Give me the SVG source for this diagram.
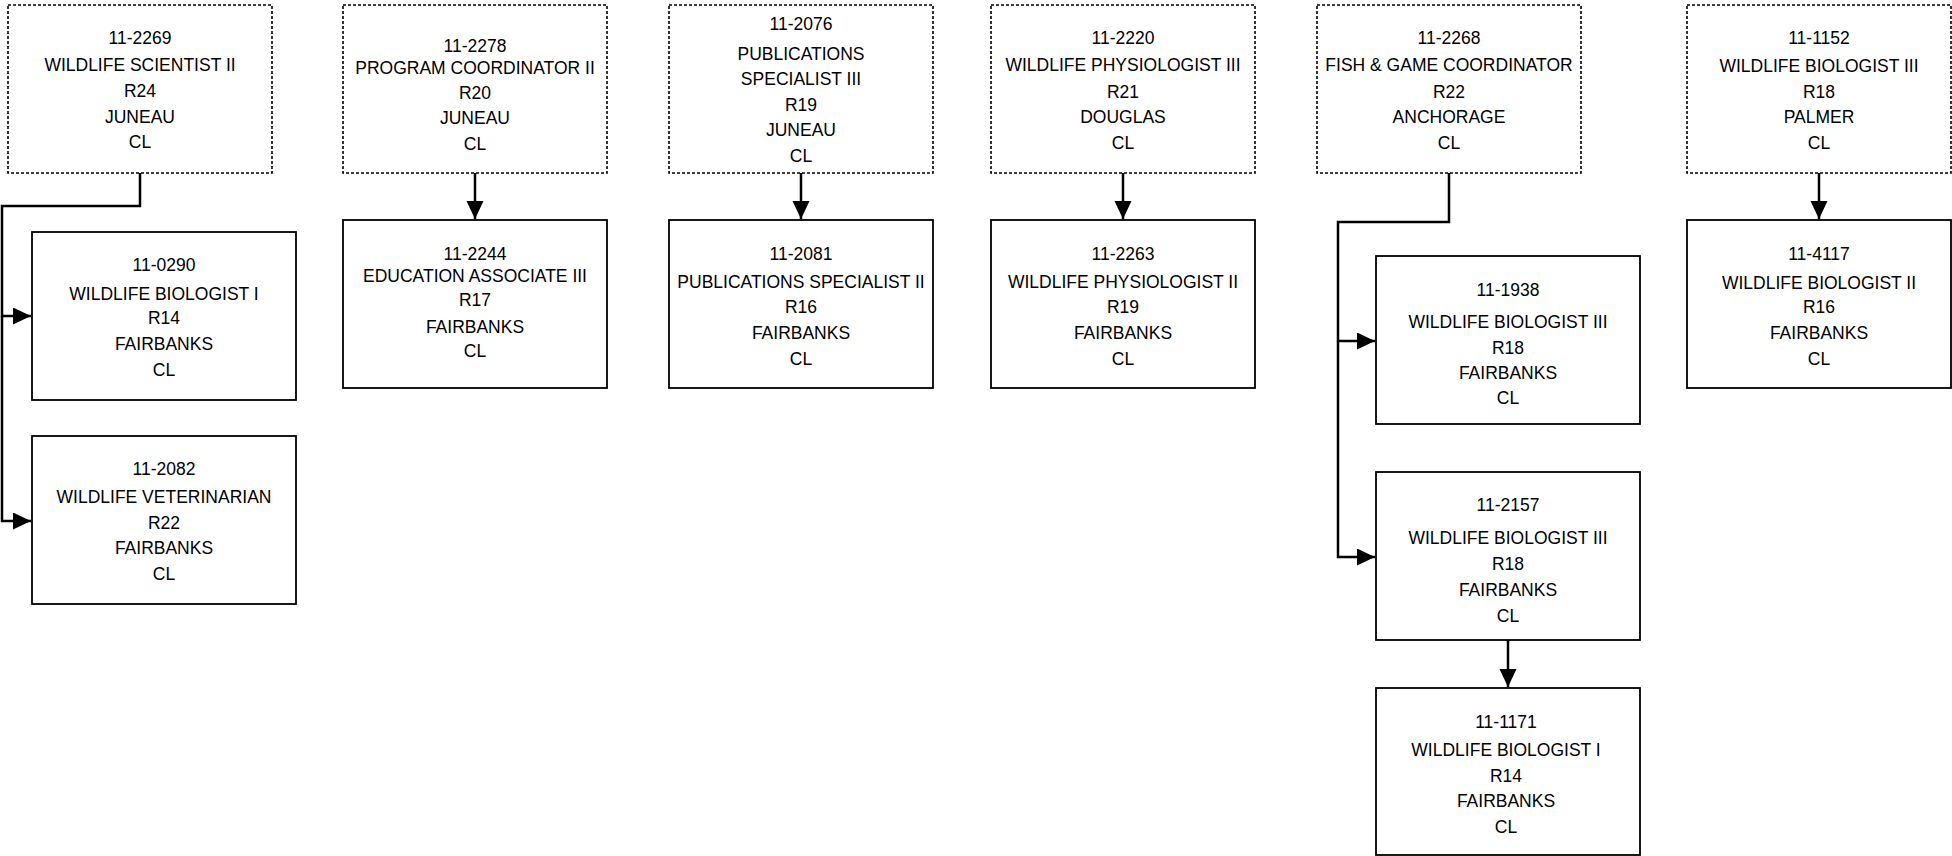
<svg xmlns="http://www.w3.org/2000/svg" width="1952" height="856" viewBox="0 0 1952 856">
<style>
.box{fill:#fff;stroke:#000;stroke-width:1.8}
.dot{fill:#fff;stroke:#000;stroke-width:1.6;stroke-dasharray:3 2}
text{font-family:"Liberation Sans",Arial,sans-serif;font-size:17.5px;fill:#000;text-anchor:middle}
.con{fill:none;stroke:#000;stroke-width:2.5}
</style>
<defs>
<marker id="ah" markerUnits="userSpaceOnUse" markerWidth="18" markerHeight="18" refX="18" refY="8.5" orient="auto">
<path d="M0,0 L18,8.5 L0,17 z" fill="#000"/>
</marker>
</defs>
<rect width="1952" height="856" fill="#fff"/>
<g id="connectors">
<path class="con" d="M140,173 V206 H2 V316 H31" marker-end="url(#ah)"/>
<path class="con" d="M2,316 V521 H31" marker-end="url(#ah)"/>
<path class="con" d="M475,173 V219" marker-end="url(#ah)"/>
<path class="con" d="M801,173 V219" marker-end="url(#ah)"/>
<path class="con" d="M1123,173 V219" marker-end="url(#ah)"/>
<path class="con" d="M1449,173 V222 H1338 V341 H1375" marker-end="url(#ah)"/>
<path class="con" d="M1338,341 V557 H1375" marker-end="url(#ah)"/>
<path class="con" d="M1508,640 V687" marker-end="url(#ah)"/>
<path class="con" d="M1819,173 V219" marker-end="url(#ah)"/>
</g>
<g id="n2269">
<rect class="dot" x="8" y="5" width="264" height="168"/>
<text x="140" y="44">11-2269</text><text x="140" y="71">WILDLIFE SCIENTIST II</text><text x="140" y="97">R24</text><text x="140" y="123">JUNEAU</text><text x="140" y="148">CL</text>
</g>
<g id="n0290">
<rect class="box" x="32" y="232" width="264" height="168"/>
<text x="164" y="271">11-0290</text><text x="164" y="300">WILDLIFE BIOLOGIST I</text><text x="164" y="324">R14</text><text x="164" y="350">FAIRBANKS</text><text x="164" y="376">CL</text>
</g>
<g id="n2082">
<rect class="box" x="32" y="436" width="264" height="168"/>
<text x="164" y="475">11-2082</text><text x="164" y="503">WILDLIFE VETERINARIAN</text><text x="164" y="529">R22</text><text x="164" y="554">FAIRBANKS</text><text x="164" y="580">CL</text>
</g>
<g id="n2278">
<rect class="dot" x="343" y="5" width="264" height="168"/>
<text x="475" y="52">11-2278</text><text x="475" y="74">PROGRAM COORDINATOR II</text><text x="475" y="99">R20</text><text x="475" y="124">JUNEAU</text><text x="475" y="150">CL</text>
</g>
<g id="n2244">
<rect class="box" x="343" y="220" width="264" height="168"/>
<text x="475" y="260">11-2244</text><text x="475" y="282">EDUCATION ASSOCIATE III</text><text x="475" y="306">R17</text><text x="475" y="333">FAIRBANKS</text><text x="475" y="357">CL</text>
</g>
<g id="n2076">
<rect class="dot" x="669" y="5" width="264" height="168"/>
<text x="801" y="30">11-2076</text><text x="801" y="60">PUBLICATIONS</text><text x="801" y="85">SPECIALIST III</text><text x="801" y="111">R19</text><text x="801" y="136">JUNEAU</text><text x="801" y="162">CL</text>
</g>
<g id="n2081">
<rect class="box" x="669" y="220" width="264" height="168"/>
<text x="801" y="260">11-2081</text><text x="801" y="288">PUBLICATIONS SPECIALIST II</text><text x="801" y="313">R16</text><text x="801" y="339">FAIRBANKS</text><text x="801" y="365">CL</text>
</g>
<g id="n2220">
<rect class="dot" x="991" y="5" width="264" height="168"/>
<text x="1123" y="44">11-2220</text><text x="1123" y="71">WILDLIFE PHYSIOLOGIST III</text><text x="1123" y="98">R21</text><text x="1123" y="123">DOUGLAS</text><text x="1123" y="149">CL</text>
</g>
<g id="n2263">
<rect class="box" x="991" y="220" width="264" height="168"/>
<text x="1123" y="260">11-2263</text><text x="1123" y="288">WILDLIFE PHYSIOLOGIST II</text><text x="1123" y="313">R19</text><text x="1123" y="339">FAIRBANKS</text><text x="1123" y="365">CL</text>
</g>
<g id="n2268">
<rect class="dot" x="1317" y="5" width="264" height="168"/>
<text x="1449" y="44">11-2268</text><text x="1449" y="71">FISH &amp; GAME COORDINATOR</text><text x="1449" y="98">R22</text><text x="1449" y="123">ANCHORAGE</text><text x="1449" y="149">CL</text>
</g>
<g id="n1938">
<rect class="box" x="1376" y="256" width="264" height="168"/>
<text x="1508" y="296">11-1938</text><text x="1508" y="328">WILDLIFE BIOLOGIST III</text><text x="1508" y="354">R18</text><text x="1508" y="379">FAIRBANKS</text><text x="1508" y="404">CL</text>
</g>
<g id="n2157">
<rect class="box" x="1376" y="472" width="264" height="168"/>
<text x="1508" y="511">11-2157</text><text x="1508" y="544">WILDLIFE BIOLOGIST III</text><text x="1508" y="570">R18</text><text x="1508" y="596">FAIRBANKS</text><text x="1508" y="622">CL</text>
</g>
<g id="n1171">
<rect class="box" x="1376" y="688" width="264" height="167"/>
<text x="1506" y="728">11-1171</text><text x="1506" y="756">WILDLIFE BIOLOGIST I</text><text x="1506" y="782">R14</text><text x="1506" y="807">FAIRBANKS</text><text x="1506" y="833">CL</text>
</g>
<g id="n1152">
<rect class="dot" x="1687" y="5" width="264" height="168"/>
<text x="1819" y="44">11-1152</text><text x="1819" y="72">WILDLIFE BIOLOGIST III</text><text x="1819" y="98">R18</text><text x="1819" y="123">PALMER</text><text x="1819" y="149">CL</text>
</g>
<g id="n4117">
<rect class="box" x="1687" y="220" width="264" height="168"/>
<text x="1819" y="260">11-4117</text><text x="1819" y="289">WILDLIFE BIOLOGIST II</text><text x="1819" y="313">R16</text><text x="1819" y="339">FAIRBANKS</text><text x="1819" y="365">CL</text>
</g>
</svg>
